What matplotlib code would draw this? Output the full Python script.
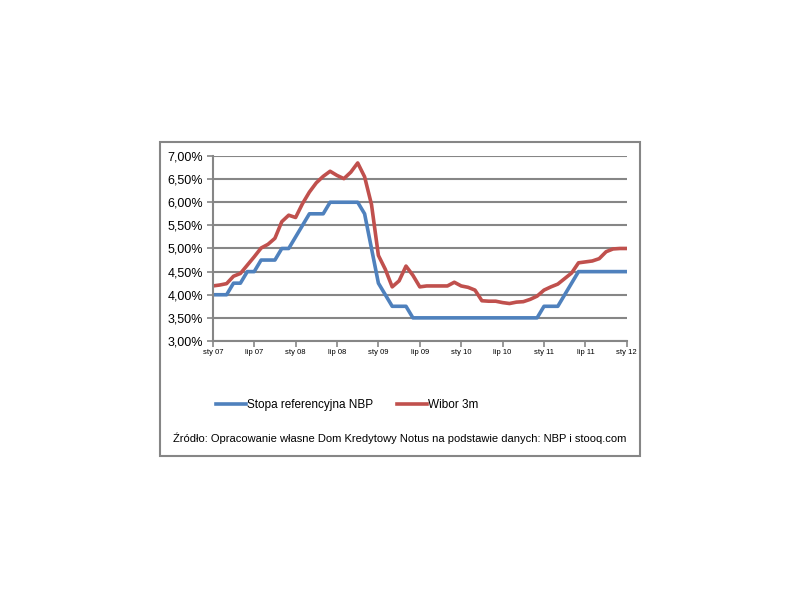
import matplotlib

matplotlib.use("Agg")

import matplotlib.pyplot as plt
from matplotlib.patches import Rectangle
from matplotlib.ticker import FuncFormatter, MultipleLocator

# miesiace od sty 2007 do sty 2012
miesiace = list(range(61))
etykiety_x = ["sty 07", "lip 07", "sty 08", "lip 08", "sty 09", "lip 09",
              "sty 10", "lip 10", "sty 11", "lip 11", "sty 12"]

stopa_nbp = [
    4.00, 4.00, 4.00, 4.25, 4.25, 4.50, 4.50, 4.75, 4.75, 4.75,
    5.00, 5.00, 5.25, 5.50, 5.75, 5.75, 5.75, 6.00, 6.00, 6.00,
    6.00, 6.00, 5.75, 5.00, 4.25, 4.00, 3.75, 3.75, 3.75, 3.50,
    3.50, 3.50, 3.50, 3.50, 3.50, 3.50, 3.50, 3.50, 3.50, 3.50,
    3.50, 3.50, 3.50, 3.50, 3.50, 3.50, 3.50, 3.50, 3.75, 3.75,
    3.75, 4.00, 4.25, 4.50, 4.50, 4.50, 4.50, 4.50, 4.50, 4.50,
    4.50,
]

wibor_3m = [
    4.19, 4.21, 4.24, 4.40, 4.46, 4.64, 4.82, 5.01, 5.09, 5.22,
    5.58, 5.72, 5.67, 5.97, 6.22, 6.42, 6.56, 6.67, 6.58, 6.51,
    6.65, 6.85, 6.55, 5.95, 4.85, 4.55, 4.17, 4.30, 4.62, 4.42,
    4.17, 4.19, 4.19, 4.19, 4.19, 4.27, 4.19, 4.16, 4.10, 3.87,
    3.86, 3.86, 3.83, 3.81, 3.84, 3.85, 3.90, 3.97, 4.10, 4.17,
    4.23, 4.35, 4.47, 4.69, 4.71, 4.73, 4.78, 4.93, 4.99, 5.00,
    5.00,
]

NIEBIESKI = "#4F81BD"
CZERWONY = "#C0504D"
SZARY = "#868686"

plt.rcParams["font.family"] = ["Liberation Sans", "DejaVu Sans"]

fig = plt.figure(figsize=(8, 6), dpi=100)
fig.patch.set_facecolor("white")

# ramka wykresu
fig.patches.append(Rectangle((0.2, 0.24), 0.6, 0.5233, transform=fig.transFigure,
                             fill=False, edgecolor=SZARY, linewidth=1.5))

ax = fig.add_axes([0.266, 0.4317, 0.5175, 0.3083])
ax.plot(miesiace, stopa_nbp, color=NIEBIESKI, linewidth=2.6,
        label="Stopa referencyjna NBP", solid_joinstyle="round")
ax.plot(miesiace, wibor_3m, color=CZERWONY, linewidth=2.6,
        label="Wibor 3m", solid_joinstyle="round")

ax.set_xlim(0, 60)
ax.set_ylim(3.0, 7.0)
ax.yaxis.set_major_locator(MultipleLocator(0.5))
ax.yaxis.set_major_formatter(FuncFormatter(lambda v, _: f"{v:.2f}".replace(".", ",") + "%"))
ax.set_xticks(range(0, 61, 6))
ax.set_xticklabels(etykiety_x, fontsize=5.5)

ax.grid(True, axis="y", color=SZARY, linewidth=1.5)
ax.set_axisbelow(True)
for s in ("top", "right"):
    ax.spines[s].set_visible(False)
for s in ("bottom", "left"):
    ax.spines[s].set_color(SZARY)
    ax.spines[s].set_linewidth(1.5)
ax.tick_params(axis="y", colors=SZARY, labelcolor="black", labelsize=9,
               length=4, width=1.2, pad=3)
ax.tick_params(axis="x", colors=SZARY, labelcolor="black",
               length=4, width=1.2, pad=2)

fig.legend(loc="center", bbox_to_anchor=(0.434, 0.325), ncol=2, frameon=False,
           fontsize=8.5, handlelength=2.5, handletextpad=0.05, columnspacing=2.1)

fig.text(0.5, 0.27, "Źródło: Opracowanie własne Dom Kredytowy Notus na podstawie danych: NBP i stooq.com",
         ha="center", va="center", fontsize=8)

fig.savefig("out.png", dpi=100, facecolor="white")
